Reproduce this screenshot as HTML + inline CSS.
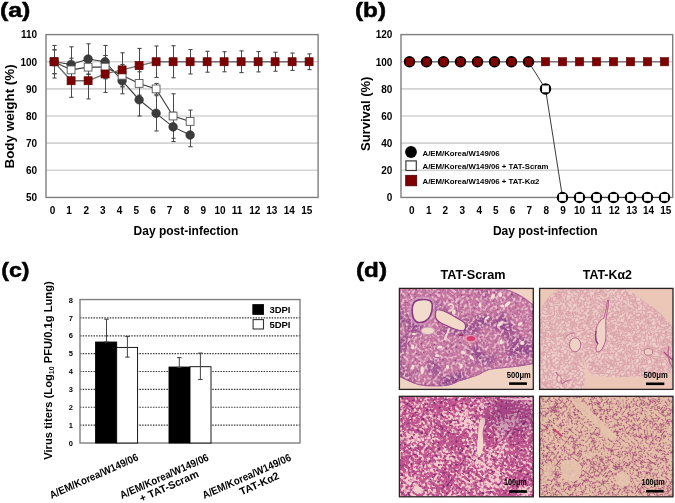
<!DOCTYPE html>
<html><head><meta charset="utf-8"><style>
html,body{margin:0;padding:0;background:#fff;}
svg{display:block;}
text{font-family:'Liberation Sans', Arial, sans-serif;font-weight:bold;fill:#000;}
</style></head><body>
<svg width="675" height="503" viewBox="0 0 675 503">
<rect x="0" y="0" width="675" height="503" fill="#fff"/>
<line x1="46.0" y1="170.31" x2="318.1" y2="170.31" stroke="#d3d3d3" stroke-width="1.6"/>
<line x1="46.0" y1="143.17" x2="318.1" y2="143.17" stroke="#d3d3d3" stroke-width="1.6"/>
<line x1="46.0" y1="116.02" x2="318.1" y2="116.02" stroke="#d3d3d3" stroke-width="1.6"/>
<line x1="46.0" y1="88.88" x2="318.1" y2="88.88" stroke="#d3d3d3" stroke-width="1.6"/>
<line x1="46.0" y1="61.74" x2="318.1" y2="61.74" stroke="#d3d3d3" stroke-width="1.6"/>
<rect x="46.0" y="34.6" width="272.10" height="162.85" fill="none" stroke="#7f7f7f" stroke-width="1.4"/>
<text x="37.20" y="201.25" font-size="10" text-anchor="end" >50</text>
<text x="37.20" y="174.11" font-size="10" text-anchor="end" >60</text>
<text x="37.20" y="146.97" font-size="10" text-anchor="end" >70</text>
<text x="37.20" y="119.82" font-size="10" text-anchor="end" >80</text>
<text x="37.20" y="92.68" font-size="10" text-anchor="end" >90</text>
<text x="37.20" y="65.54" font-size="10" text-anchor="end" >100</text>
<text x="37.20" y="38.40" font-size="10" text-anchor="end" >110</text>
<text x="52.60" y="214.00" font-size="10" text-anchor="middle" >0</text>
<text x="69.00" y="214.00" font-size="10" text-anchor="middle" >1</text>
<text x="86.20" y="214.00" font-size="10" text-anchor="middle" >2</text>
<text x="102.90" y="214.00" font-size="10" text-anchor="middle" >3</text>
<text x="119.60" y="214.00" font-size="10" text-anchor="middle" >4</text>
<text x="136.20" y="214.00" font-size="10" text-anchor="middle" >5</text>
<text x="153.10" y="214.00" font-size="10" text-anchor="middle" >6</text>
<text x="169.60" y="214.00" font-size="10" text-anchor="middle" >7</text>
<text x="186.50" y="214.00" font-size="10" text-anchor="middle" >8</text>
<text x="203.30" y="214.00" font-size="10" text-anchor="middle" >9</text>
<text x="220.00" y="214.00" font-size="10" text-anchor="middle" >10</text>
<text x="237.10" y="214.00" font-size="10" text-anchor="middle" >11</text>
<text x="254.70" y="214.00" font-size="10" text-anchor="middle" >12</text>
<text x="271.80" y="214.00" font-size="10" text-anchor="middle" >13</text>
<text x="289.30" y="214.00" font-size="10" text-anchor="middle" >14</text>
<text x="306.70" y="214.00" font-size="10" text-anchor="middle" >15</text>
<text x="185.90" y="234.60" font-size="12" text-anchor="middle" >Day post-infection</text>
<text x="0" y="0" font-size="13.4" text-anchor="middle" transform="translate(14.4 116.4) rotate(-90)">Body weight (%)</text>
<text x="0.00" y="16.90" font-size="21" text-anchor="start" stroke="#000" stroke-width="0.5" textLength="30.4" lengthAdjust="spacingAndGlyphs">(a)</text>
<line x1="54.50" y1="49.80" x2="54.50" y2="73.68" stroke="#4a4a4a" stroke-width="1"/>
<line x1="52.40" y1="49.80" x2="56.60" y2="49.80" stroke="#4a4a4a" stroke-width="1.1"/>
<line x1="52.40" y1="73.68" x2="56.60" y2="73.68" stroke="#4a4a4a" stroke-width="1.1"/>
<line x1="71.50" y1="46.81" x2="71.50" y2="82.10" stroke="#4a4a4a" stroke-width="1"/>
<line x1="69.40" y1="46.81" x2="73.60" y2="46.81" stroke="#4a4a4a" stroke-width="1.1"/>
<line x1="69.40" y1="82.10" x2="73.60" y2="82.10" stroke="#4a4a4a" stroke-width="1.1"/>
<line x1="88.50" y1="43.83" x2="88.50" y2="74.23" stroke="#4a4a4a" stroke-width="1"/>
<line x1="86.40" y1="43.83" x2="90.60" y2="43.83" stroke="#4a4a4a" stroke-width="1.1"/>
<line x1="86.40" y1="74.23" x2="90.60" y2="74.23" stroke="#4a4a4a" stroke-width="1.1"/>
<line x1="105.50" y1="45.46" x2="105.50" y2="78.03" stroke="#4a4a4a" stroke-width="1"/>
<line x1="103.40" y1="45.46" x2="107.60" y2="45.46" stroke="#4a4a4a" stroke-width="1.1"/>
<line x1="103.40" y1="78.03" x2="107.60" y2="78.03" stroke="#4a4a4a" stroke-width="1.1"/>
<line x1="122.50" y1="67.71" x2="122.50" y2="93.77" stroke="#4a4a4a" stroke-width="1"/>
<line x1="120.40" y1="67.71" x2="124.60" y2="67.71" stroke="#4a4a4a" stroke-width="1.1"/>
<line x1="120.40" y1="93.77" x2="124.60" y2="93.77" stroke="#4a4a4a" stroke-width="1.1"/>
<line x1="139.50" y1="83.45" x2="139.50" y2="116.02" stroke="#4a4a4a" stroke-width="1"/>
<line x1="137.40" y1="83.45" x2="141.60" y2="83.45" stroke="#4a4a4a" stroke-width="1.1"/>
<line x1="137.40" y1="116.02" x2="141.60" y2="116.02" stroke="#4a4a4a" stroke-width="1.1"/>
<line x1="156.50" y1="95.67" x2="156.50" y2="130.95" stroke="#4a4a4a" stroke-width="1"/>
<line x1="154.40" y1="95.67" x2="158.60" y2="95.67" stroke="#4a4a4a" stroke-width="1.1"/>
<line x1="154.40" y1="130.95" x2="158.60" y2="130.95" stroke="#4a4a4a" stroke-width="1.1"/>
<line x1="173.50" y1="112.23" x2="173.50" y2="141.54" stroke="#4a4a4a" stroke-width="1"/>
<line x1="171.40" y1="112.23" x2="175.60" y2="112.23" stroke="#4a4a4a" stroke-width="1.1"/>
<line x1="171.40" y1="141.54" x2="175.60" y2="141.54" stroke="#4a4a4a" stroke-width="1.1"/>
<line x1="190.50" y1="123.35" x2="190.50" y2="146.70" stroke="#4a4a4a" stroke-width="1"/>
<line x1="188.40" y1="123.35" x2="192.60" y2="123.35" stroke="#4a4a4a" stroke-width="1.1"/>
<line x1="188.40" y1="146.70" x2="192.60" y2="146.70" stroke="#4a4a4a" stroke-width="1.1"/>
<line x1="54.50" y1="45.46" x2="54.50" y2="78.03" stroke="#4a4a4a" stroke-width="1"/>
<line x1="52.40" y1="45.46" x2="56.60" y2="45.46" stroke="#4a4a4a" stroke-width="1.1"/>
<line x1="52.40" y1="78.03" x2="56.60" y2="78.03" stroke="#4a4a4a" stroke-width="1.1"/>
<line x1="71.50" y1="58.21" x2="71.50" y2="81.56" stroke="#4a4a4a" stroke-width="1"/>
<line x1="69.40" y1="58.21" x2="73.60" y2="58.21" stroke="#4a4a4a" stroke-width="1.1"/>
<line x1="69.40" y1="81.56" x2="73.60" y2="81.56" stroke="#4a4a4a" stroke-width="1.1"/>
<line x1="88.50" y1="60.11" x2="88.50" y2="74.23" stroke="#4a4a4a" stroke-width="1"/>
<line x1="86.40" y1="60.11" x2="90.60" y2="60.11" stroke="#4a4a4a" stroke-width="1.1"/>
<line x1="86.40" y1="74.23" x2="90.60" y2="74.23" stroke="#4a4a4a" stroke-width="1.1"/>
<line x1="105.50" y1="55.50" x2="105.50" y2="78.84" stroke="#4a4a4a" stroke-width="1"/>
<line x1="103.40" y1="55.50" x2="107.60" y2="55.50" stroke="#4a4a4a" stroke-width="1.1"/>
<line x1="103.40" y1="78.84" x2="107.60" y2="78.84" stroke="#4a4a4a" stroke-width="1.1"/>
<line x1="122.50" y1="64.46" x2="122.50" y2="86.17" stroke="#4a4a4a" stroke-width="1"/>
<line x1="120.40" y1="64.46" x2="124.60" y2="64.46" stroke="#4a4a4a" stroke-width="1.1"/>
<line x1="120.40" y1="86.17" x2="124.60" y2="86.17" stroke="#4a4a4a" stroke-width="1.1"/>
<line x1="139.50" y1="71.78" x2="139.50" y2="95.13" stroke="#4a4a4a" stroke-width="1"/>
<line x1="137.40" y1="71.78" x2="141.60" y2="71.78" stroke="#4a4a4a" stroke-width="1.1"/>
<line x1="137.40" y1="95.13" x2="141.60" y2="95.13" stroke="#4a4a4a" stroke-width="1.1"/>
<line x1="156.50" y1="83.45" x2="156.50" y2="94.31" stroke="#4a4a4a" stroke-width="1"/>
<line x1="154.40" y1="83.45" x2="158.60" y2="83.45" stroke="#4a4a4a" stroke-width="1.1"/>
<line x1="154.40" y1="94.31" x2="158.60" y2="94.31" stroke="#4a4a4a" stroke-width="1.1"/>
<line x1="173.50" y1="93.77" x2="173.50" y2="138.28" stroke="#4a4a4a" stroke-width="1"/>
<line x1="171.40" y1="93.77" x2="175.60" y2="93.77" stroke="#4a4a4a" stroke-width="1.1"/>
<line x1="171.40" y1="138.28" x2="175.60" y2="138.28" stroke="#4a4a4a" stroke-width="1.1"/>
<line x1="190.50" y1="110.05" x2="190.50" y2="132.85" stroke="#4a4a4a" stroke-width="1"/>
<line x1="188.40" y1="110.05" x2="192.60" y2="110.05" stroke="#4a4a4a" stroke-width="1.1"/>
<line x1="188.40" y1="132.85" x2="192.60" y2="132.85" stroke="#4a4a4a" stroke-width="1.1"/>
<line x1="54.50" y1="49.80" x2="54.50" y2="73.68" stroke="#4a4a4a" stroke-width="1"/>
<line x1="52.40" y1="49.80" x2="56.60" y2="49.80" stroke="#4a4a4a" stroke-width="1.1"/>
<line x1="52.40" y1="73.68" x2="56.60" y2="73.68" stroke="#4a4a4a" stroke-width="1.1"/>
<line x1="71.50" y1="64.18" x2="71.50" y2="97.30" stroke="#4a4a4a" stroke-width="1"/>
<line x1="69.40" y1="64.18" x2="73.60" y2="64.18" stroke="#4a4a4a" stroke-width="1.1"/>
<line x1="69.40" y1="97.30" x2="73.60" y2="97.30" stroke="#4a4a4a" stroke-width="1.1"/>
<line x1="88.50" y1="62.56" x2="88.50" y2="98.93" stroke="#4a4a4a" stroke-width="1"/>
<line x1="86.40" y1="62.56" x2="90.60" y2="62.56" stroke="#4a4a4a" stroke-width="1.1"/>
<line x1="86.40" y1="98.93" x2="90.60" y2="98.93" stroke="#4a4a4a" stroke-width="1.1"/>
<line x1="105.50" y1="55.50" x2="105.50" y2="92.41" stroke="#4a4a4a" stroke-width="1"/>
<line x1="103.40" y1="55.50" x2="107.60" y2="55.50" stroke="#4a4a4a" stroke-width="1.1"/>
<line x1="103.40" y1="92.41" x2="107.60" y2="92.41" stroke="#4a4a4a" stroke-width="1.1"/>
<line x1="122.50" y1="52.78" x2="122.50" y2="86.98" stroke="#4a4a4a" stroke-width="1"/>
<line x1="120.40" y1="52.78" x2="124.60" y2="52.78" stroke="#4a4a4a" stroke-width="1.1"/>
<line x1="120.40" y1="86.98" x2="124.60" y2="86.98" stroke="#4a4a4a" stroke-width="1.1"/>
<line x1="139.50" y1="48.44" x2="139.50" y2="82.64" stroke="#4a4a4a" stroke-width="1"/>
<line x1="137.40" y1="48.44" x2="141.60" y2="48.44" stroke="#4a4a4a" stroke-width="1.1"/>
<line x1="137.40" y1="82.64" x2="141.60" y2="82.64" stroke="#4a4a4a" stroke-width="1.1"/>
<line x1="156.50" y1="46.00" x2="156.50" y2="77.48" stroke="#4a4a4a" stroke-width="1"/>
<line x1="154.40" y1="46.00" x2="158.60" y2="46.00" stroke="#4a4a4a" stroke-width="1.1"/>
<line x1="154.40" y1="77.48" x2="158.60" y2="77.48" stroke="#4a4a4a" stroke-width="1.1"/>
<line x1="173.50" y1="45.73" x2="173.50" y2="77.76" stroke="#4a4a4a" stroke-width="1"/>
<line x1="171.40" y1="45.73" x2="175.60" y2="45.73" stroke="#4a4a4a" stroke-width="1.1"/>
<line x1="171.40" y1="77.76" x2="175.60" y2="77.76" stroke="#4a4a4a" stroke-width="1.1"/>
<line x1="190.50" y1="49.53" x2="190.50" y2="73.96" stroke="#4a4a4a" stroke-width="1"/>
<line x1="188.40" y1="49.53" x2="192.60" y2="49.53" stroke="#4a4a4a" stroke-width="1.1"/>
<line x1="188.40" y1="73.96" x2="192.60" y2="73.96" stroke="#4a4a4a" stroke-width="1.1"/>
<line x1="207.50" y1="51.29" x2="207.50" y2="72.19" stroke="#4a4a4a" stroke-width="1"/>
<line x1="205.40" y1="51.29" x2="209.60" y2="51.29" stroke="#4a4a4a" stroke-width="1.1"/>
<line x1="205.40" y1="72.19" x2="209.60" y2="72.19" stroke="#4a4a4a" stroke-width="1.1"/>
<line x1="224.50" y1="51.70" x2="224.50" y2="71.78" stroke="#4a4a4a" stroke-width="1"/>
<line x1="222.40" y1="51.70" x2="226.60" y2="51.70" stroke="#4a4a4a" stroke-width="1.1"/>
<line x1="222.40" y1="71.78" x2="226.60" y2="71.78" stroke="#4a4a4a" stroke-width="1.1"/>
<line x1="241.50" y1="50.88" x2="241.50" y2="72.60" stroke="#4a4a4a" stroke-width="1"/>
<line x1="239.40" y1="50.88" x2="243.60" y2="50.88" stroke="#4a4a4a" stroke-width="1.1"/>
<line x1="239.40" y1="72.60" x2="243.60" y2="72.60" stroke="#4a4a4a" stroke-width="1.1"/>
<line x1="258.50" y1="51.56" x2="258.50" y2="71.92" stroke="#4a4a4a" stroke-width="1"/>
<line x1="256.40" y1="51.56" x2="260.60" y2="51.56" stroke="#4a4a4a" stroke-width="1.1"/>
<line x1="256.40" y1="71.92" x2="260.60" y2="71.92" stroke="#4a4a4a" stroke-width="1.1"/>
<line x1="275.50" y1="52.24" x2="275.50" y2="71.24" stroke="#4a4a4a" stroke-width="1"/>
<line x1="273.40" y1="52.24" x2="277.60" y2="52.24" stroke="#4a4a4a" stroke-width="1.1"/>
<line x1="273.40" y1="71.24" x2="277.60" y2="71.24" stroke="#4a4a4a" stroke-width="1.1"/>
<line x1="292.50" y1="53.06" x2="292.50" y2="70.43" stroke="#4a4a4a" stroke-width="1"/>
<line x1="290.40" y1="53.06" x2="294.60" y2="53.06" stroke="#4a4a4a" stroke-width="1.1"/>
<line x1="290.40" y1="70.43" x2="294.60" y2="70.43" stroke="#4a4a4a" stroke-width="1.1"/>
<line x1="309.50" y1="53.87" x2="309.50" y2="69.61" stroke="#4a4a4a" stroke-width="1"/>
<line x1="307.40" y1="53.87" x2="311.60" y2="53.87" stroke="#4a4a4a" stroke-width="1.1"/>
<line x1="307.40" y1="69.61" x2="311.60" y2="69.61" stroke="#4a4a4a" stroke-width="1.1"/>
<polyline points="54.10,61.74 71.10,64.46 88.10,59.03 105.10,61.74 122.10,80.74 139.10,99.74 156.10,113.31 173.10,126.88 190.10,135.02" fill="none" stroke="#3a3a3a" stroke-width="1.1"/>
<polyline points="54.10,61.74 71.10,69.88 88.10,67.17 105.10,67.17 122.10,75.31 139.10,83.45 156.10,88.88 173.10,116.02 190.10,121.45" fill="none" stroke="#3a3a3a" stroke-width="1.1"/>
<polyline points="54.10,61.74 71.10,80.74 88.10,80.74 105.10,73.96 122.10,69.88 139.10,65.54 156.10,61.74 173.10,61.74 190.10,61.74 207.10,61.74 224.10,61.74 241.10,61.74 258.10,61.74 275.10,61.74 292.10,61.74 309.10,61.74" fill="none" stroke="#6e6e6e" stroke-width="1.3"/>
<circle cx="54.10" cy="61.74" r="4.3" fill="#3c3c3c" stroke="#2a2a2a" stroke-width="0.6"/>
<circle cx="71.10" cy="64.46" r="4.3" fill="#3c3c3c" stroke="#2a2a2a" stroke-width="0.6"/>
<circle cx="88.10" cy="59.03" r="4.3" fill="#3c3c3c" stroke="#2a2a2a" stroke-width="0.6"/>
<circle cx="105.10" cy="61.74" r="4.3" fill="#3c3c3c" stroke="#2a2a2a" stroke-width="0.6"/>
<circle cx="122.10" cy="80.74" r="4.3" fill="#3c3c3c" stroke="#2a2a2a" stroke-width="0.6"/>
<circle cx="139.10" cy="99.74" r="4.3" fill="#3c3c3c" stroke="#2a2a2a" stroke-width="0.6"/>
<circle cx="156.10" cy="113.31" r="4.3" fill="#3c3c3c" stroke="#2a2a2a" stroke-width="0.6"/>
<circle cx="173.10" cy="126.88" r="4.3" fill="#3c3c3c" stroke="#2a2a2a" stroke-width="0.6"/>
<circle cx="190.10" cy="135.02" r="4.3" fill="#3c3c3c" stroke="#2a2a2a" stroke-width="0.6"/>
<rect x="50.20" y="57.84" width="7.8" height="7.8" fill="#fff" stroke="#555" stroke-width="0.9"/>
<rect x="67.20" y="65.98" width="7.8" height="7.8" fill="#fff" stroke="#555" stroke-width="0.9"/>
<rect x="84.20" y="63.27" width="7.8" height="7.8" fill="#fff" stroke="#555" stroke-width="0.9"/>
<rect x="101.20" y="63.27" width="7.8" height="7.8" fill="#fff" stroke="#555" stroke-width="0.9"/>
<rect x="118.20" y="71.41" width="7.8" height="7.8" fill="#fff" stroke="#555" stroke-width="0.9"/>
<rect x="135.20" y="79.55" width="7.8" height="7.8" fill="#fff" stroke="#555" stroke-width="0.9"/>
<rect x="152.20" y="84.98" width="7.8" height="7.8" fill="#fff" stroke="#555" stroke-width="0.9"/>
<rect x="169.20" y="112.12" width="7.8" height="7.8" fill="#fff" stroke="#555" stroke-width="0.9"/>
<rect x="186.20" y="117.55" width="7.8" height="7.8" fill="#fff" stroke="#555" stroke-width="0.9"/>
<rect x="50.10" y="57.74" width="8.0" height="8.0" fill="#7e0000" stroke="#5c0000" stroke-width="0.7"/>
<rect x="67.10" y="76.74" width="8.0" height="8.0" fill="#7e0000" stroke="#5c0000" stroke-width="0.7"/>
<rect x="84.10" y="76.74" width="8.0" height="8.0" fill="#7e0000" stroke="#5c0000" stroke-width="0.7"/>
<rect x="101.10" y="69.96" width="8.0" height="8.0" fill="#7e0000" stroke="#5c0000" stroke-width="0.7"/>
<rect x="118.10" y="65.88" width="8.0" height="8.0" fill="#7e0000" stroke="#5c0000" stroke-width="0.7"/>
<rect x="135.10" y="61.54" width="8.0" height="8.0" fill="#7e0000" stroke="#5c0000" stroke-width="0.7"/>
<rect x="152.10" y="57.74" width="8.0" height="8.0" fill="#7e0000" stroke="#5c0000" stroke-width="0.7"/>
<rect x="169.10" y="57.74" width="8.0" height="8.0" fill="#7e0000" stroke="#5c0000" stroke-width="0.7"/>
<rect x="186.10" y="57.74" width="8.0" height="8.0" fill="#7e0000" stroke="#5c0000" stroke-width="0.7"/>
<rect x="203.10" y="57.74" width="8.0" height="8.0" fill="#7e0000" stroke="#5c0000" stroke-width="0.7"/>
<rect x="220.10" y="57.74" width="8.0" height="8.0" fill="#7e0000" stroke="#5c0000" stroke-width="0.7"/>
<rect x="237.10" y="57.74" width="8.0" height="8.0" fill="#7e0000" stroke="#5c0000" stroke-width="0.7"/>
<rect x="254.10" y="57.74" width="8.0" height="8.0" fill="#7e0000" stroke="#5c0000" stroke-width="0.7"/>
<rect x="271.10" y="57.74" width="8.0" height="8.0" fill="#7e0000" stroke="#5c0000" stroke-width="0.7"/>
<rect x="288.10" y="57.74" width="8.0" height="8.0" fill="#7e0000" stroke="#5c0000" stroke-width="0.7"/>
<rect x="305.10" y="57.74" width="8.0" height="8.0" fill="#7e0000" stroke="#5c0000" stroke-width="0.7"/>
<line x1="401.0" y1="170.31" x2="672.7" y2="170.31" stroke="#d3d3d3" stroke-width="1.6"/>
<line x1="401.0" y1="143.17" x2="672.7" y2="143.17" stroke="#d3d3d3" stroke-width="1.6"/>
<line x1="401.0" y1="116.02" x2="672.7" y2="116.02" stroke="#d3d3d3" stroke-width="1.6"/>
<line x1="401.0" y1="88.88" x2="672.7" y2="88.88" stroke="#d3d3d3" stroke-width="1.6"/>
<line x1="401.0" y1="61.74" x2="672.7" y2="61.74" stroke="#d3d3d3" stroke-width="1.6"/>
<rect x="401.0" y="34.6" width="271.70" height="162.85" fill="none" stroke="#7f7f7f" stroke-width="1.4"/>
<text x="392.40" y="201.25" font-size="10" text-anchor="end" >0</text>
<text x="392.40" y="174.11" font-size="10" text-anchor="end" >20</text>
<text x="392.40" y="146.97" font-size="10" text-anchor="end" >40</text>
<text x="392.40" y="119.82" font-size="10" text-anchor="end" >60</text>
<text x="392.40" y="92.68" font-size="10" text-anchor="end" >80</text>
<text x="392.40" y="65.54" font-size="10" text-anchor="end" >100</text>
<text x="392.40" y="38.40" font-size="10" text-anchor="end" >120</text>
<text x="411.85" y="214.00" font-size="10" text-anchor="middle" >0</text>
<text x="428.90" y="214.00" font-size="10" text-anchor="middle" >1</text>
<text x="445.40" y="214.00" font-size="10" text-anchor="middle" >2</text>
<text x="462.20" y="214.00" font-size="10" text-anchor="middle" >3</text>
<text x="479.30" y="214.00" font-size="10" text-anchor="middle" >4</text>
<text x="495.80" y="214.00" font-size="10" text-anchor="middle" >5</text>
<text x="512.60" y="214.00" font-size="10" text-anchor="middle" >6</text>
<text x="529.30" y="214.00" font-size="10" text-anchor="middle" >7</text>
<text x="546.20" y="214.00" font-size="10" text-anchor="middle" >8</text>
<text x="563.00" y="214.00" font-size="10" text-anchor="middle" >9</text>
<text x="579.60" y="214.00" font-size="10" text-anchor="middle" >10</text>
<text x="596.50" y="214.00" font-size="10" text-anchor="middle" >11</text>
<text x="614.30" y="214.00" font-size="10" text-anchor="middle" >12</text>
<text x="631.70" y="214.00" font-size="10" text-anchor="middle" >13</text>
<text x="648.60" y="214.00" font-size="10" text-anchor="middle" >14</text>
<text x="665.70" y="214.00" font-size="10" text-anchor="middle" >15</text>
<text x="545.30" y="234.60" font-size="12" text-anchor="middle" >Day post-infection</text>
<text x="0" y="0" font-size="13.0" text-anchor="middle" transform="translate(369.9 113.8) rotate(-90)">Survival (%)</text>
<text x="355.00" y="16.80" font-size="21" text-anchor="start" stroke="#000" stroke-width="0.5" textLength="31.0" lengthAdjust="spacingAndGlyphs">(b)</text>
<polyline points="409.50,61.74 426.50,61.74 443.50,61.74 460.50,61.74 477.50,61.74 494.50,61.74 511.50,61.74 528.50,61.74 545.50,61.74 562.50,61.74 579.50,61.74 596.50,61.74 613.50,61.74 630.50,61.74 647.50,61.74 664.50,61.74" fill="none" stroke="#7a7a7a" stroke-width="1.3"/>
<polyline points="528.50,61.74 545.50,88.88 562.50,197.45 579.50,197.45 596.50,197.45 613.50,197.45 630.50,197.45 647.50,197.45 664.50,197.45" fill="none" stroke="#3a3a3a" stroke-width="1.0"/>
<circle cx="409.50" cy="61.74" r="5.75" fill="#000"/>
<rect x="406.10" y="58.34" width="6.8" height="6.8" fill="#fff"/>
<circle cx="426.50" cy="61.74" r="5.75" fill="#000"/>
<rect x="423.10" y="58.34" width="6.8" height="6.8" fill="#fff"/>
<circle cx="443.50" cy="61.74" r="5.75" fill="#000"/>
<rect x="440.10" y="58.34" width="6.8" height="6.8" fill="#fff"/>
<circle cx="460.50" cy="61.74" r="5.75" fill="#000"/>
<rect x="457.10" y="58.34" width="6.8" height="6.8" fill="#fff"/>
<circle cx="477.50" cy="61.74" r="5.75" fill="#000"/>
<rect x="474.10" y="58.34" width="6.8" height="6.8" fill="#fff"/>
<circle cx="494.50" cy="61.74" r="5.75" fill="#000"/>
<rect x="491.10" y="58.34" width="6.8" height="6.8" fill="#fff"/>
<circle cx="511.50" cy="61.74" r="5.75" fill="#000"/>
<rect x="508.10" y="58.34" width="6.8" height="6.8" fill="#fff"/>
<circle cx="528.50" cy="61.74" r="5.75" fill="#000"/>
<rect x="525.10" y="58.34" width="6.8" height="6.8" fill="#fff"/>
<circle cx="545.50" cy="88.88" r="5.75" fill="#000"/>
<rect x="542.10" y="85.48" width="6.8" height="6.8" fill="#fff"/>
<circle cx="562.50" cy="197.45" r="5.75" fill="#000"/>
<rect x="559.10" y="194.05" width="6.8" height="6.8" fill="#fff"/>
<circle cx="579.50" cy="197.45" r="5.75" fill="#000"/>
<rect x="576.10" y="194.05" width="6.8" height="6.8" fill="#fff"/>
<circle cx="596.50" cy="197.45" r="5.75" fill="#000"/>
<rect x="593.10" y="194.05" width="6.8" height="6.8" fill="#fff"/>
<circle cx="613.50" cy="197.45" r="5.75" fill="#000"/>
<rect x="610.10" y="194.05" width="6.8" height="6.8" fill="#fff"/>
<circle cx="630.50" cy="197.45" r="5.75" fill="#000"/>
<rect x="627.10" y="194.05" width="6.8" height="6.8" fill="#fff"/>
<circle cx="647.50" cy="197.45" r="5.75" fill="#000"/>
<rect x="644.10" y="194.05" width="6.8" height="6.8" fill="#fff"/>
<circle cx="664.50" cy="197.45" r="5.75" fill="#000"/>
<rect x="661.10" y="194.05" width="6.8" height="6.8" fill="#fff"/>
<rect x="405.70" y="57.94" width="7.6" height="7.6" fill="#7e0000"/>
<rect x="422.70" y="57.94" width="7.6" height="7.6" fill="#7e0000"/>
<rect x="439.70" y="57.94" width="7.6" height="7.6" fill="#7e0000"/>
<rect x="456.70" y="57.94" width="7.6" height="7.6" fill="#7e0000"/>
<rect x="473.70" y="57.94" width="7.6" height="7.6" fill="#7e0000"/>
<rect x="490.70" y="57.94" width="7.6" height="7.6" fill="#7e0000"/>
<rect x="507.70" y="57.94" width="7.6" height="7.6" fill="#7e0000"/>
<rect x="524.70" y="57.94" width="7.6" height="7.6" fill="#7e0000"/>
<rect x="541.40" y="57.64" width="8.2" height="8.2" fill="#7e0000" stroke="#5c0000" stroke-width="0.6"/>
<rect x="558.40" y="57.64" width="8.2" height="8.2" fill="#7e0000" stroke="#5c0000" stroke-width="0.6"/>
<rect x="575.40" y="57.64" width="8.2" height="8.2" fill="#7e0000" stroke="#5c0000" stroke-width="0.6"/>
<rect x="592.40" y="57.64" width="8.2" height="8.2" fill="#7e0000" stroke="#5c0000" stroke-width="0.6"/>
<rect x="609.40" y="57.64" width="8.2" height="8.2" fill="#7e0000" stroke="#5c0000" stroke-width="0.6"/>
<rect x="626.40" y="57.64" width="8.2" height="8.2" fill="#7e0000" stroke="#5c0000" stroke-width="0.6"/>
<rect x="643.40" y="57.64" width="8.2" height="8.2" fill="#7e0000" stroke="#5c0000" stroke-width="0.6"/>
<rect x="660.40" y="57.64" width="8.2" height="8.2" fill="#7e0000" stroke="#5c0000" stroke-width="0.6"/>
<circle cx="411.0" cy="152.0" r="5.9" fill="#000"/>
<rect x="405.9" y="160.9" width="10.4" height="9.6" fill="#fff" stroke="#3a3a3a" stroke-width="1.2"/>
<rect x="405.7" y="175.3" width="11.0" height="10.5" fill="#7e0000" stroke="#4a0000" stroke-width="0.8"/>
<text x="422.50" y="155.70" font-size="7.8" text-anchor="start" >A/EM/Korea/W149/06</text>
<text x="422.50" y="169.10" font-size="7.8" text-anchor="start" >A/EM/Korea/W149/06 + TAT-Scram</text>
<text x="422.50" y="183.70" font-size="7.8" text-anchor="start" >A/EM/Korea/W149/06 + TAT-K&#945;2</text>
<line x1="80.0" y1="425.13" x2="300.0" y2="425.13" stroke="#3a3a3a" stroke-width="1.2" stroke-dasharray="1.5 1.2"/>
<line x1="80.0" y1="407.26" x2="300.0" y2="407.26" stroke="#3a3a3a" stroke-width="1.2" stroke-dasharray="1.5 1.2"/>
<line x1="80.0" y1="389.39" x2="300.0" y2="389.39" stroke="#3a3a3a" stroke-width="1.2" stroke-dasharray="1.5 1.2"/>
<line x1="80.0" y1="371.52" x2="300.0" y2="371.52" stroke="#3a3a3a" stroke-width="1.2" stroke-dasharray="1.5 1.2"/>
<line x1="80.0" y1="353.65" x2="300.0" y2="353.65" stroke="#3a3a3a" stroke-width="1.2" stroke-dasharray="1.5 1.2"/>
<line x1="80.0" y1="335.78" x2="300.0" y2="335.78" stroke="#3a3a3a" stroke-width="1.2" stroke-dasharray="1.5 1.2"/>
<line x1="80.0" y1="317.91" x2="300.0" y2="317.91" stroke="#3a3a3a" stroke-width="1.2" stroke-dasharray="1.5 1.2"/>
<rect x="80.0" y="299.55" width="220.00" height="143.45" fill="none" stroke="#7f7f7f" stroke-width="1.4"/>
<text x="70.90" y="445.70" font-size="7.5" text-anchor="middle" >0</text>
<text x="70.90" y="427.83" font-size="7.5" text-anchor="middle" >1</text>
<text x="70.90" y="409.96" font-size="7.5" text-anchor="middle" >2</text>
<text x="70.90" y="392.09" font-size="7.5" text-anchor="middle" >3</text>
<text x="70.90" y="374.22" font-size="7.5" text-anchor="middle" >4</text>
<text x="70.90" y="356.35" font-size="7.5" text-anchor="middle" >5</text>
<text x="70.90" y="338.48" font-size="7.5" text-anchor="middle" >6</text>
<text x="70.90" y="320.61" font-size="7.5" text-anchor="middle" >7</text>
<text x="70.90" y="302.74" font-size="7.5" text-anchor="middle" >8</text>
<rect x="95.60" y="342.03" width="21.10" height="100.97" fill="#000" stroke="#000" stroke-width="0.9"/>
<rect x="116.70" y="347.40" width="20.90" height="95.60" fill="#fff" stroke="#000" stroke-width="0.9"/>
<rect x="169.00" y="367.05" width="21.00" height="75.95" fill="#000" stroke="#000" stroke-width="0.9"/>
<rect x="190.00" y="366.70" width="21.00" height="76.30" fill="#fff" stroke="#000" stroke-width="0.9"/>
<line x1="106.5" y1="319.2" x2="106.5" y2="341.9" stroke="#444" stroke-width="1"/>
<line x1="104.3" y1="319.2" x2="108.7" y2="319.2" stroke="#444" stroke-width="1.1"/>
<line x1="104.3" y1="341.9" x2="108.7" y2="341.9" stroke="#444" stroke-width="1.1"/>
<line x1="127.4" y1="336.5" x2="127.4" y2="357.1" stroke="#444" stroke-width="1"/>
<line x1="125.2" y1="336.5" x2="129.6" y2="336.5" stroke="#444" stroke-width="1.1"/>
<line x1="125.2" y1="357.1" x2="129.6" y2="357.1" stroke="#444" stroke-width="1.1"/>
<line x1="179.3" y1="357.6" x2="179.3" y2="367.3" stroke="#444" stroke-width="1"/>
<line x1="177.10000000000002" y1="357.6" x2="181.5" y2="357.6" stroke="#444" stroke-width="1.1"/>
<line x1="177.10000000000002" y1="367.3" x2="181.5" y2="367.3" stroke="#444" stroke-width="1.1"/>
<line x1="200.4" y1="353.1" x2="200.4" y2="379.5" stroke="#444" stroke-width="1"/>
<line x1="198.20000000000002" y1="353.1" x2="202.6" y2="353.1" stroke="#444" stroke-width="1.1"/>
<line x1="198.20000000000002" y1="379.5" x2="202.6" y2="379.5" stroke="#444" stroke-width="1.1"/>
<rect x="252.8" y="304.6" width="10.8" height="9.8" fill="#000" stroke="#000" stroke-width="0.8"/>
<rect x="253.1" y="319.6" width="10.4" height="9.4" fill="#fff" stroke="#333" stroke-width="1.1"/>
<text x="269.40" y="313.40" font-size="9.5" text-anchor="start" >3DPI</text>
<text x="269.40" y="327.80" font-size="9.5" text-anchor="start" >5DPI</text>
<text x="1.20" y="276.90" font-size="21" text-anchor="start" stroke="#000" stroke-width="0.5" textLength="28.3" lengthAdjust="spacingAndGlyphs">(c)</text>
<text x="0" y="0" font-size="11.2" text-anchor="middle" transform="translate(51.8 370.5) rotate(-90)">Virus titers (Log<tspan font-size="7" dy="2.5">10</tspan><tspan dy="-2.5"> PFU/0.1g Lung)</tspan></text>
<text x="0" y="0" font-size="10.6" text-anchor="middle" textLength="96" lengthAdjust="spacingAndGlyphs" transform="translate(95.3 479.4) rotate(-24)">A/EM/Korea/W149/06</text>
<text x="0" y="0" font-size="10.6" text-anchor="middle" textLength="96" lengthAdjust="spacingAndGlyphs" transform="translate(165.7 479.5) rotate(-24)">A/EM/Korea/W149/06</text>
<text x="0" y="0" font-size="10.6" text-anchor="middle" transform="translate(170.6 489.4) rotate(-24)">+ TAT-Scram</text>
<text x="0" y="0" font-size="10.6" text-anchor="middle" textLength="96" lengthAdjust="spacingAndGlyphs" transform="translate(248.1 479.6) rotate(-24)">A/EM/Korea/W149/06</text>
<text x="0" y="0" font-size="10.6" text-anchor="middle" transform="translate(260.8 487.0) rotate(-24)">TAT-K&#945;2</text>
<text x="356.00" y="276.50" font-size="21" text-anchor="start" stroke="#000" stroke-width="0.5" textLength="31.0" lengthAdjust="spacingAndGlyphs">(d)</text>
<text x="473.00" y="279.00" font-size="12.3" text-anchor="middle" textLength="65" lengthAdjust="spacingAndGlyphs">TAT-Scram</text>
<text x="607.40" y="279.00" font-size="12.4" text-anchor="middle" >TAT-K&#945;2</text>
<defs>
<clipPath id="cl1"><rect x="399.4" y="288.4" width="133.9" height="101.0"/></clipPath>
<clipPath id="cl2"><rect x="539.6" y="288.4" width="133.4" height="101.0"/></clipPath>
<clipPath id="cl3"><rect x="399.4" y="396.3" width="133.9" height="100.5"/></clipPath>
<clipPath id="cl4"><rect x="539.6" y="396.3" width="133.4" height="100.5"/></clipPath>
<clipPath id="tis1"><path d="M399,288 L500,288 C506,289 512,291 518,294 C524,297 529,301 534,305 L534,364 C528,365 520,366.5 510,367.5 C503,368 497,368.5 489,370.1 C486,371 484.5,372 482.7,372.8 C480,374.5 478,375.5 475.6,376.3 C472,377.5 469,378.3 466.7,379 C463,380 460,380.8 457.8,381.7 C454,383.5 452,384.6 449,385.2 C445,386 442,386.1 438,386.3 C433,386.4 428,386.3 424,385.9 C420,385.4 417,384.8 414,383.6 C410,382 406,380.4 403,378.6 L399,376.5 Z"/></clipPath>
<clipPath id="tis2"><path d="M539,316 C541,308 545,300 552,294 C555,291 558,289 560,288 L626.7,288 C630,291 634,294 638.9,297.3 C643,300 647,303 650,305.1 C654,308 658,311 661.2,314 C665,317.5 668,321 671.2,325.2 L674,328 L674,372.4 C662,374.5 650,376 636.7,376.6 C625,377.2 617,377.3 611,377.1 C603,376.8 597,376.5 593,375 C589,372.5 587,368 585.5,363 C584.5,359.5 583,357 580.5,355.5 C583,359 584.5,364 584.8,370 C585,377 584.5,384 584,390 L539,390 Z"/></clipPath>
<filter id="g1" x="0" y="0" width="1" height="1" color-interpolation-filters="sRGB"><feTurbulence type="fractalNoise" baseFrequency="0.04" numOctaves="2" seed="8"/><feColorMatrix type="matrix" values="0 0 0 0 0.59 0 0 0 0 0.30 0 0 0 0 0.55 4 0 0 0 -1.9"/></filter>
<filter id="g2" x="0" y="0" width="1" height="1" color-interpolation-filters="sRGB"><feTurbulence type="fractalNoise" baseFrequency="0.4" numOctaves="2" seed="3"/><feColorMatrix type="matrix" values="0 0 0 0 0.91 0 0 0 0 0.74 0 0 0 0 0.80 4.5 0 0 0 -2.05"/></filter>
<filter id="g3" x="0" y="0" width="1" height="1" color-interpolation-filters="sRGB"><feTurbulence type="fractalNoise" baseFrequency="0.45" numOctaves="2" seed="23"/><feColorMatrix type="matrix" values="0 0 0 0 0.55 0 0 0 0 0.27 0 0 0 0 0.52 5 0 0 0 -2.9"/></filter>
<filter id="h1" x="0" y="0" width="1" height="1" color-interpolation-filters="sRGB"><feTurbulence type="fractalNoise" baseFrequency="0.3" numOctaves="2" seed="9"/><feColorMatrix type="matrix" values="0 0 0 0 0.80 0 0 0 0 0.53 0 0 0 0 0.59 1 0 0 0 0"/><feComponentTransfer><feFuncA type="table" tableValues="0 0 0 0.15 0.65 0.15 0 0 0"/></feComponentTransfer></filter>
<filter id="k1" x="0" y="0" width="1" height="1" color-interpolation-filters="sRGB"><feTurbulence type="fractalNoise" baseFrequency="0.42" numOctaves="2" seed="17"/><feColorMatrix type="matrix" values="0 0 0 0 0.50 0 0 0 0 0.18 0 0 0 0 0.44 6 0 0 0 -3.2"/></filter>
<filter id="k2" x="0" y="0" width="1" height="1" color-interpolation-filters="sRGB"><feTurbulence type="fractalNoise" baseFrequency="0.42" numOctaves="2" seed="11"/><feColorMatrix type="matrix" values="1 0 0 0 0 1 0 0 0 0 1 0 0 0 0 0 0 0 0 1" result="hi"/><feTurbulence type="fractalNoise" baseFrequency="0.05" numOctaves="2" seed="4"/><feColorMatrix type="matrix" values="1 0 0 0 0 1 0 0 0 0 1 0 0 0 0 0 0 0 0 1" result="lo"/><feComposite in="hi" in2="lo" operator="arithmetic" k1="0" k2="1" k3="0.45" k4="-0.225" result="sum"/><feColorMatrix in="sum" type="matrix" values="0 0 0 0 0.95 0 0 0 0 0.80 0 0 0 0 0.80 6 0 0 0 -2.8"/></filter>
<filter id="m1" x="0" y="0" width="1" height="1" color-interpolation-filters="sRGB"><feTurbulence type="turbulence" baseFrequency="0.25" numOctaves="1" seed="7" result="t"/><feColorMatrix in="t" type="matrix" values="0 0 0 0 0.64 0 0 0 0 0.28 0 0 0 0 0.46 -13 0 0 0 1.3" result="lines"/><feTurbulence type="fractalNoise" baseFrequency="0.6" numOctaves="1" seed="2" result="n"/><feColorMatrix in="n" type="matrix" values="0 0 0 0 0 0 0 0 0 0 0 0 0 0 0 4 0 0 0 -1.0" result="m"/><feComposite in="lines" in2="m" operator="in"/></filter>
<filter id="soft" x="-5%" y="-5%" width="110%" height="110%"><feGaussianBlur stdDeviation="0.45"/></filter>
<filter id="big" x="-50%" y="-50%" width="200%" height="200%"><feGaussianBlur stdDeviation="7"/></filter>
</defs>
<g clip-path="url(#cl1)"><g filter="url(#soft)">
<rect x="399.4" y="288.4" width="133.9" height="101.0" fill="#f0d3c2"/>
<g clip-path="url(#tis1)">
<rect x="399.4" y="288.4" width="133.9" height="101.0" fill="#c4749f"/>
<rect x="366.3" y="238.9" width="200" height="200" transform="rotate(37 466.3 338.9)" fill="#000" filter="url(#g1)"/>
<rect x="366.3" y="238.9" width="200" height="200" transform="rotate(37 466.3 338.9)" fill="#000" filter="url(#g3)"/>
<rect x="366.3" y="238.9" width="200" height="200" transform="rotate(37 466.3 338.9)" fill="#000" filter="url(#g2)"/>
<path d="M399,288 L500,288 C506,289 512,291 518,294 C524,297 529,301 534,305 L534,364 C528,365 520,366.5 510,367.5 C503,368 497,368.5 489,370.1 C486,371 484.5,372 482.7,372.8 C480,374.5 478,375.5 475.6,376.3 C472,377.5 469,378.3 466.7,379 C463,380 460,380.8 457.8,381.7 C454,383.5 452,384.6 449,385.2 C445,386 442,386.1 438,386.3 C433,386.4 428,386.3 424,385.9 C420,385.4 417,384.8 414,383.6 C410,382 406,380.4 403,378.6 L399,376.5 Z" fill="none" stroke="#9a4c92" stroke-width="2.2" opacity="0.6"/>
</g>
<path d="M414,302.5 C417,299 426,298.8 430.2,300.8 C433.2,303 432.6,310 430.6,315 C428.6,320.2 423.5,323.2 418.2,322.4 C413.2,321.4 411.8,314.5 412.2,309 C412.4,306 413,304 414,302.5 Z" fill="none" stroke="#d8a8cc" stroke-width="6" opacity="0.55"/>
<path d="M414,302.5 C417,299 426,298.8 430.2,300.8 C433.2,303 432.6,310 430.6,315 C428.6,320.2 423.5,323.2 418.2,322.4 C413.2,321.4 411.8,314.5 412.2,309 C412.4,306 413,304 414,302.5 Z" fill="#f2dccd" stroke="#8a3a80" stroke-width="1.6"/>
<path d="M436.5,310 C440,308.5 444,311 450,314 L463,321.5 C466,323.5 466.5,328 464,330.5 C461,331.5 457,330 452,328 L441,323 C437,321 435,318 435.5,314 C435.6,312 435.8,311 436.5,310 Z" fill="#f2d9c8" stroke="#94428a" stroke-width="1.1"/>
<ellipse cx="427.7" cy="330.8" rx="6.8" ry="3.8" transform="rotate(0 427.7 330.8)" fill="#f0d8c8" stroke="#c490bb" stroke-width="1"/>
<path d="M449.5,328 L446.5,335 444.7,340" stroke="#f3dccd" stroke-width="1.8" fill="none"/>
<path d="M448,305 C450,303.5 453,304 453.5,306.5 C453.5,309 451,311 448.5,311" stroke="#f3dccd" stroke-width="1.6" fill="none"/>
<ellipse cx="470.4" cy="338.8" rx="6.5" ry="3.9" transform="rotate(0 470.4 338.8)" fill="#e597b4" />
<ellipse cx="471.0" cy="338.6" rx="4.4" ry="2.5" transform="rotate(0 471.0 338.6)" fill="#d83c72" />
<path d="M459.5,335.5 L463.5,335" stroke="#9a2040" stroke-width="1.2"/>
<ellipse cx="453.8" cy="312.3" rx="1.8" ry="2.5" transform="rotate(0 453.8 312.3)" fill="#f4e0d4" />
<ellipse cx="492.8" cy="296.5" rx="1.6" ry="3.0" transform="rotate(30 492.8 296.5)" fill="#f4e0d4" />
<ellipse cx="500.2" cy="294.4" rx="2.0" ry="2.5" transform="rotate(0 500.2 294.4)" fill="#f4e0d4" />
<ellipse cx="507.6" cy="303.9" rx="3.5" ry="1.6" transform="rotate(-40 507.6 303.9)" fill="#f4e0d4" />
<ellipse cx="502.3" cy="306" rx="2" ry="1.5" transform="rotate(0 502.3 306)" fill="#f4e0d4" />
<ellipse cx="500.2" cy="323.9" rx="4" ry="1.6" transform="rotate(-40 500.2 323.9)" fill="#f4e0d4" />
<ellipse cx="520.2" cy="323.9" rx="2.5" ry="1.5" transform="rotate(-30 520.2 323.9)" fill="#f4e0d4" />
<ellipse cx="501.2" cy="341.8" rx="1.6" ry="2.6" transform="rotate(0 501.2 341.8)" fill="#f4e0d4" />
<ellipse cx="522.3" cy="342.9" rx="2.2" ry="2.0" transform="rotate(0 522.3 342.9)" fill="#f4e0d4" />
<ellipse cx="463.3" cy="352.4" rx="2.5" ry="1.6" transform="rotate(30 463.3 352.4)" fill="#f4e0d4" />
<ellipse cx="440" cy="347" rx="2.5" ry="1.5" transform="rotate(0 440 347)" fill="#f4e0d4" />
<ellipse cx="412.7" cy="347" rx="1.6" ry="2.5" transform="rotate(0 412.7 347)" fill="#f4e0d4" />
<ellipse cx="422.2" cy="370.3" rx="1.7" ry="4.0" transform="rotate(0 422.2 370.3)" fill="#f4e0d4" />
<ellipse cx="412.7" cy="367.1" rx="1.4" ry="2.5" transform="rotate(0 412.7 367.1)" fill="#f4e0d4" />
<ellipse cx="437" cy="355.5" rx="2.2" ry="1.6" transform="rotate(0 437 355.5)" fill="#f4e0d4" />
<ellipse cx="471.7" cy="357.6" rx="3.5" ry="1.4" transform="rotate(50 471.7 357.6)" fill="#f4e0d4" />
<ellipse cx="447.5" cy="367" rx="1.6" ry="2.2" transform="rotate(0 447.5 367)" fill="#f4e0d4" />
<ellipse cx="461.2" cy="366" rx="1.6" ry="2.2" transform="rotate(0 461.2 366)" fill="#f4e0d4" />
<ellipse cx="487" cy="318" rx="3" ry="1.2" transform="rotate(-30 487 318)" fill="#f4e0d4" />
<ellipse cx="414" cy="334" rx="2" ry="1.3" transform="rotate(0 414 334)" fill="#f4e0d4" />
<ellipse cx="480" cy="305" rx="1.5" ry="2.2" transform="rotate(0 480 305)" fill="#f4e0d4" />
</g></g>
<g clip-path="url(#cl2)"><g filter="url(#soft)">
<rect x="539.6" y="288.4" width="133.4" height="101.0" fill="#ecc6b6"/>
<g clip-path="url(#tis2)">
<rect x="539.6" y="288.4" width="133.4" height="101.0" fill="#efd0ca"/>
<rect x="506.3" y="238.9" width="200" height="200" transform="rotate(37 606.3 338.9)" fill="#000" filter="url(#h1)"/>
</g>
<ellipse cx="575.1" cy="344.8" rx="5.6" ry="7.0" transform="rotate(0 575.1 344.8)" fill="#eed2c4" stroke="#b0608e" stroke-width="0.9"/>
<path d="M607.5,300 C607,306 605.5,312 604,318 C600,320 597,324 596,330 C595,336 596,341 598,344 C596,346 595,350 597,352 C600,352 602,350 603,347 C605,344 606,340 606,334 C606,328 605.5,323 606,318 C607,312 608.5,306 608.5,300 Z" fill="#efd3c6" stroke="#b0508a" stroke-width="0.9"/>
<path d="M596,331 C595,337 596,342 598,344" fill="none" stroke="#9a3a80" stroke-width="1.4"/>
<path d="M564.8,337.7 C568,334 571,333 574.3,333" fill="none" stroke="#c0708f" stroke-width="1"/>
<ellipse cx="648.4" cy="351.9" rx="4.2" ry="3.4" transform="rotate(0 648.4 351.9)" fill="#eccfc2" stroke="#b87088" stroke-width="0.9"/>
<path d="M556,372 C558,376 561,379 562,384 M562,384 C565,381 568,380 571,380" fill="none" stroke="#c06890" stroke-width="1.1"/>
<ellipse cx="559" cy="379" rx="2.2" ry="3.5" fill="#efd3c6" stroke="#c06890" stroke-width="0.8"/>
<path d="M664,352 C667,356 670,358 673,360" fill="none" stroke="#b0508a" stroke-width="1.3"/>
<path d="M669,346 C667,353 668,360 672,367" fill="none" stroke="#b8608f" stroke-width="1.1"/>
</g></g>
<g clip-path="url(#cl3)"><g filter="url(#soft)">
<rect x="399.4" y="396.3" width="133.9" height="100.5" fill="#c2558f"/>
<rect x="366.3" y="346.6" width="200" height="200" transform="rotate(37 466.3 446.6)" fill="#000" filter="url(#k1)"/>
<rect x="366.3" y="346.6" width="200" height="200" transform="rotate(37 466.3 446.6)" fill="#000" filter="url(#k2)"/>
<path d="M482,418 C484,417 486,419 485,423 C483,428 482,433 483,438 C484,444 483,450 481,455 C479,457 477,455 477,451 C476,446 478,441 478,436 C478,430 479,424 480,420 Z" fill="#f2d8cc"/>
<ellipse cx="418" cy="490" rx="4" ry="3.5" transform="rotate(0 418 490)" fill="#f0cfd0" />
<ellipse cx="512" cy="416" rx="28" ry="20" fill="#6a1f6a" opacity="0.3" filter="url(#big)"/>
<path d="M500,397.5 C512,398.5 524,398.5 534,397.8 L534,400 C524,400.5 512,400.2 500,399 Z" fill="#f2d0d8" opacity="0.8"/>
</g></g>
<g clip-path="url(#cl4)"><g filter="url(#soft)">
<rect x="539.6" y="396.3" width="133.4" height="100.5" fill="#e4c0a9"/>
<rect x="506.3" y="346.6" width="200" height="200" transform="rotate(37 606.3 446.6)" fill="#000" filter="url(#m1)"/>
<path d="M562,462 C566,458 575,459 580,464 C583,469 581,478 576,481 C570,483 564,480 562,474 C560,470 560,465 562,462 Z" fill="#e6c4ad" opacity="0.9"/>
<path d="M616,476 C620,472 627,472 630,477 C632,482 628,487 622,487 C617,486 615,481 616,476 Z" fill="#e6c4ad" opacity="0.9"/>
<path d="M572,399 L578,398 C590,410 604,424 618,437 L614,443 C600,430 586,416 572,403 Z" fill="#e6c4ad" opacity="0.85"/>
<ellipse cx="606" cy="433" rx="6" ry="5" fill="#e6c4ad" opacity="0.8"/>
<ellipse cx="589" cy="455" rx="6" ry="4" fill="#e6c4ad" opacity="0.75"/>
<ellipse cx="548" cy="470" rx="5" ry="7" fill="#e6c4ad" opacity="0.7"/>
<path d="M553,429 C556,431 559,433 561,436" fill="none" stroke="#c83060" stroke-width="2" opacity="0.8"/>
</g></g>
<rect x="399.4" y="288.4" width="133.9" height="101.0" fill="none" stroke="#2a2222" stroke-width="1.3"/>
<rect x="539.6" y="288.4" width="133.4" height="101.0" fill="none" stroke="#2a2222" stroke-width="1.3"/>
<rect x="399.4" y="396.3" width="133.9" height="100.5" fill="none" stroke="#2a2222" stroke-width="1.3"/>
<rect x="539.6" y="396.3" width="133.4" height="100.5" fill="none" stroke="#2a2222" stroke-width="1.3"/>
<text x="530.8" y="377.9" font-size="8.2" text-anchor="end" textLength="24.0" lengthAdjust="spacingAndGlyphs">500&#956;m</text>
<rect x="509.1" y="382.3" width="17.8" height="2.6" fill="#000"/>
<text x="667.7" y="377.8" font-size="8.2" text-anchor="end" textLength="24.2" lengthAdjust="spacingAndGlyphs">500&#956;m</text>
<rect x="646.0" y="382.5" width="18.3" height="2.6" fill="#000"/>
<text x="526.7" y="485.0" font-size="8.2" text-anchor="end" textLength="22.7" lengthAdjust="spacingAndGlyphs">100&#956;m</text>
<rect x="509.3" y="490.2" width="17.6" height="2.6" fill="#000"/>
<text x="664.8" y="485.2" font-size="8.2" text-anchor="end" textLength="23.4" lengthAdjust="spacingAndGlyphs">100&#956;m</text>
<rect x="646.1" y="489.9" width="17.6" height="2.6" fill="#000"/>
</svg></body></html>
